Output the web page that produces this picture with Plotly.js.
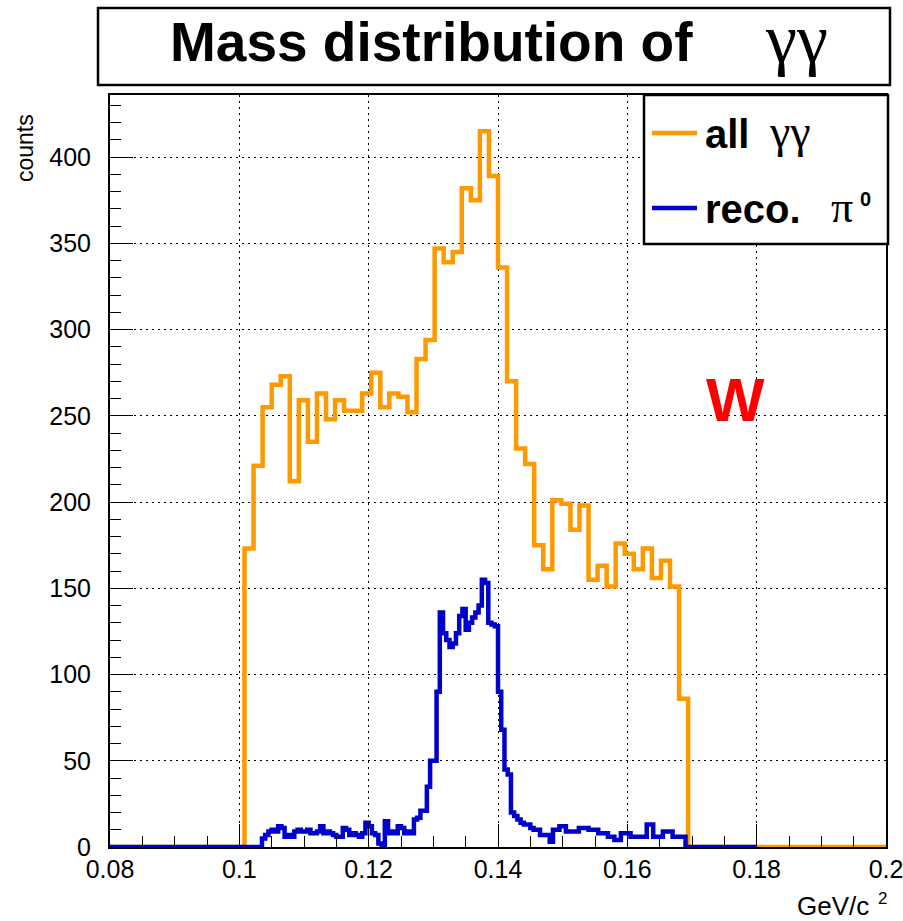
<!DOCTYPE html>
<html>
<head>
<meta charset="utf-8">
<script src="https://cdn.plot.ly/plotly-3.0.1.min.js"></script>
<style>
  html, body { margin: 0; padding: 0; background: #ffffff; }
  #chart { width: 903px; height: 921px; }
</style>
</head>
<body>
<div id="chart"></div>
<script>
// ---------------- data ----------------
// "all γγ" histogram (orange): first bin left edge, bin width, bin contents
const allStart = 0.1008;
const allWidth = 0.0014;
const allCounts = [
  173, 221, 255, 268, 273, 212, 259, 235, 263, 248,
  259, 253, 253, 263, 275, 255, 263, 261, 252, 283,
  294, 347, 339, 345, 382, 375, 415, 389, 336, 270,
  231, 222, 175, 161, 201, 199, 184, 198, 155, 163,
  151, 176, 170, 161, 173, 156, 166, 151, 86
];
const allRange = [0.08, 0.2];

// "reco. π0" histogram (blue): first non-empty bin left edge, bin width, contents
const recoStart = 0.1035;
const recoWidth = 0.0005;
const recoCounts = [
  5, 7, 9, 10, 9, 12, 11, 6, 7, 6,
  9, 10, 9, 9, 10, 8, 8, 9, 12, 8,
  9, 8, 7, 6, 6, 11, 10, 7, 8, 7,
  6, 8, 14, 12, 8, 7, 2, 0, 15, 8,
  9, 8, 12, 11, 8, 9, 8, 16, 17, 21,
  21, 35, 50, 50, 90, 136, 124, 120, 116, 118,
  124, 134, 138, 126, 130, 133, 136, 140, 155, 153,
  130, 129, 128, 90, 68, 45, 42, 20, 18, 16,
  14, 13, 13, 11, 10, 10, 7, 7, 7, 3,
  10, 10, 12, 12, 9, 9, 9, 9, 11, 11,
  11, 10, 10, 10, 8, 8, 8, 6, 6, 4,
  4, 8, 8, 8, 6, 6, 6, 6, 6, 13,
  13, 6, 6, 6, 9, 9, 9, 6, 6, 6,
  6
];
const recoRange = [0.08, 0.18];

const xTicks = [0.08, 0.1, 0.12, 0.14, 0.16, 0.18, 0.2];
const xTickText = ['0.08', '0.1', '0.12', '0.14', '0.16', '0.18', '0.2'];
const yTicks = [0, 50, 100, 150, 200, 250, 300, 350, 400];
const yMax = 436;

// ---------------- build step outlines ----------------
function stepPoints(start, width, counts, range) {
  const xs = [range[0]], ys = [0];
  counts.forEach((c, i) => { xs.push(start + i * width); ys.push(c); });
  xs.push(start + counts.length * width); ys.push(0);
  xs.push(range[1]); ys.push(0);
  return { xs, ys };
}
const allPts = stepPoints(allStart, allWidth, allCounts, allRange);
const recoPts = stepPoints(recoStart, recoWidth, recoCounts, recoRange);

const ORANGE = '#ff9900';
const BLUE = '#0000cc';
const FONT = 'Liberation Sans, Arial, Helvetica, sans-serif';
const GREEK = 'Liberation Serif, Times New Roman, serif';

const traces = [
  { x: allPts.xs, y: allPts.ys, type: 'scatter', mode: 'lines',
    line: { shape: 'hv', color: ORANGE, width: 4.5 }, name: 'all γγ', showlegend: false },
  { x: recoPts.xs, y: recoPts.ys, type: 'scatter', mode: 'lines',
    line: { shape: 'hv', color: BLUE, width: 4.5 }, name: 'reco. π0', showlegend: false }
];

// plot area: x 110..886, y 95..847 (px)
const L = 110, R = 886, T = 95, B = 847;
const W = R - L, H = B - T;
const px = v => (v - L) / W;
const py = v => (B - v) / H;

function note(x, y, text, size, opts) {
  return Object.assign({
    xref: 'paper', yref: 'paper', x: px(x), y: py(y), xanchor: 'left', yanchor: 'middle',
    showarrow: false, text: text, font: { size: size, family: FONT, color: '#000' }
  }, opts || {});
}

const layout = {
  width: 903, height: 921,
  margin: { l: L, r: 903 - R, t: T, b: 921 - B, pad: 0 },
  paper_bgcolor: '#ffffff', plot_bgcolor: '#ffffff',
  font: { family: FONT, color: '#000000' },
  showlegend: false,
  xaxis: {
    range: allRange, tickvals: xTicks, ticktext: xTickText,
    ticks: 'inside', ticklen: 23, tickwidth: 1, tickcolor: '#000',
    minor: { ticks: 'inside', ticklen: 11, dtick: 0.005, tickcolor: '#000', tickwidth: 1, showgrid: false },
    showline: true, linecolor: '#000', linewidth: 2, mirror: true,
    showgrid: true, gridcolor: '#000', gridwidth: 1, griddash: '2px,4px',
    zeroline: false, tickfont: { size: 25, family: FONT }, ticklabelstandoff: -1,
    ticklabeloverflow: 'allow', fixedrange: true
  },
  yaxis: {
    range: [0, yMax], tickvals: yTicks,
    ticks: 'inside', ticklen: 23, tickwidth: 1, tickcolor: '#000',
    minor: { ticks: 'inside', ticklen: 11, dtick: 10, tickcolor: '#000', tickwidth: 1, showgrid: false },
    showline: true, linecolor: '#000', linewidth: 2, mirror: true,
    showgrid: true, gridcolor: '#000', gridwidth: 1, griddash: '2px,4px',
    zeroline: false, tickfont: { size: 25, family: FONT }, ticklabelstandoff: 12,
    ticklabeloverflow: 'allow', fixedrange: true
  },
  shapes: [
    // title box
    { type: 'rect', xref: 'paper', yref: 'paper', x0: px(98), x1: px(890), y0: py(85), y1: py(8),
      line: { color: '#000', width: 2.5 }, fillcolor: '#ffffff' },
    // legend box
    { type: 'rect', xref: 'paper', yref: 'paper', x0: px(644), x1: px(888), y0: py(244), y1: py(95),
      line: { color: '#000', width: 2.5 }, fillcolor: '#ffffff' },
    { type: 'line', xref: 'paper', yref: 'paper', x0: px(652), x1: px(697), y0: py(133), y1: py(133),
      line: { color: ORANGE, width: 4.5 } },
    { type: 'line', xref: 'paper', yref: 'paper', x0: px(652), x1: px(697), y0: py(208), y1: py(208),
      line: { color: BLUE, width: 4.5 } }
  ],
  annotations: [
    // title
    note(168, 42, '<b>Mass distribution of</b>', 55),
    note(796, 79, 'γγ', 70, { xanchor: 'center', yanchor: 'bottom',
      font: { size: 70, family: GREEK, color: '#000' } }),
    // legend
    note(703, 134, '<b>all</b>', 40),
    note(767, 131, 'γγ', 46, { font: { size: 46, family: GREEK, color: '#000' } }),
    note(703, 209, '<b>reco.</b>', 40),
    note(829, 207, 'π', 44, { font: { size: 44, family: GREEK, color: '#000' } }),
    note(858, 199, '<b>0</b>', 20),
    // marker letter
    note(735, 399, '<b>W</b>', 62, { xanchor: 'center', font: { size: 62, family: FONT, color: '#ff0000' } }),
    // axis titles
    note(25, 148, 'counts', 23, { xanchor: 'center', textangle: -90 }),
    note(871, 906, 'GeV/c', 26, { xanchor: 'right' }),
    note(876, 899, '2', 17)
  ]
};

Plotly.newPlot('chart', traces, layout, { staticPlot: true, displayModeBar: false });
</script>
</body>
</html>
